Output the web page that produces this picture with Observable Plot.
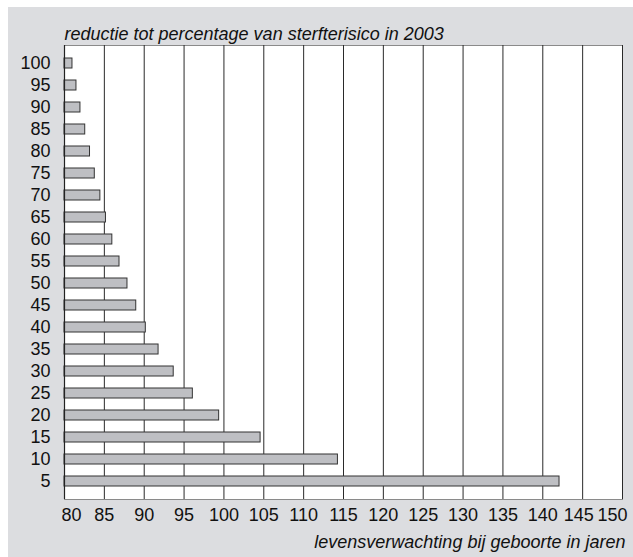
<!DOCTYPE html>
<html><head><meta charset="utf-8">
<script src="https://cdn.jsdelivr.net/npm/d3@7"></script>
<script src="https://cdn.jsdelivr.net/npm/@observablehq/plot@0.6"></script>
<style>
body{margin:0;background:#fff;}
#wrap{position:relative;width:633px;height:557px;overflow:hidden;}
#panel{position:absolute;left:8px;top:7px;right:0;bottom:0;background:#dcdde0;}
#chart{position:absolute;left:0;top:0;}
</style>
</head><body>
<div id="wrap"><div id="panel"></div><div id="chart"></div></div>
<script>
const ages = [100,95,90,85,80,75,70,65,60,55,50,45,40,35,30,25,20,15,10,5];
const lifeExpectancy = [81.0,81.5,82.0,82.6,83.2,83.8,84.5,85.2,86.0,86.9,87.9,89.0,90.2,91.8,93.7,96.1,99.4,104.6,114.3,142.1];
const xTicks = [80,85,90,95,100,105,110,115,120,125,130,135,140,145,150];
const titleText = "reductie tot percentage van sterfterisico in 2003";
const xLabel = "levensverwachting bij geboorte in jaren";

const data = ages.map((a,i)=>({age:a, value:lifeExpectancy[i]}));
const font = "'Liberation Sans', Arial, sans-serif";
const fs = 18;

const chart = Plot.plot({
  width:633, height:557,
  marginLeft:64, marginRight:11, marginTop:45, marginBottom:58,
  style:{background:"transparent", fontFamily:font, fontSize:fs+"px", color:"#111"},
  x:{domain:[80,150], ticks:xTicks, tickSize:0, label:null},
  y:{domain:ages, padding:0.56, tickSize:0, label:null},
  marks:[
    Plot.frame({fill:"white", stroke:"#8a8a8a"}),
    Plot.ruleX(xTicks.slice(1), {stroke:"#2a2a2a", strokeWidth:1}),
    Plot.barX(data, {x1:80, x2:"value", y:"age", fill:"#bebfc3", stroke:"#333", strokeWidth:1}),
    Plot.ruleX([80], {stroke:"#222", strokeWidth:1.2}),
    Plot.ruleY([0], {frameAnchor:"bottom", stroke:"#222"}),
    Plot.axisX([80], {tickSize:0, tickPadding:9, fontSize:fs, textAnchor:"start", dx:-3, label:null}),
    Plot.axisX(xTicks.slice(1,13), {tickSize:0, tickPadding:9, fontSize:fs, label:null}),
    Plot.axisX([145], {tickSize:0, tickPadding:9, fontSize:fs, dx:-4, label:null}),
    Plot.axisX([150], {tickSize:0, tickPadding:9, fontSize:fs, textAnchor:"end", dx:5, label:null}),
    Plot.axisY({tickSize:0, tickPadding:14, fontSize:fs, label:null}),
    Plot.text([titleText], {frameAnchor:"top-left", textAnchor:"start", lineAnchor:"bottom", dy:-6, fontStyle:"italic", fontSize:fs}),
    Plot.text([xLabel], {frameAnchor:"bottom-right", textAnchor:"end", lineAnchor:"bottom", dx:3, dy:48, fontStyle:"italic", fontSize:fs})
  ]
});
document.getElementById("chart").appendChild(chart);
</script>
</body></html>
